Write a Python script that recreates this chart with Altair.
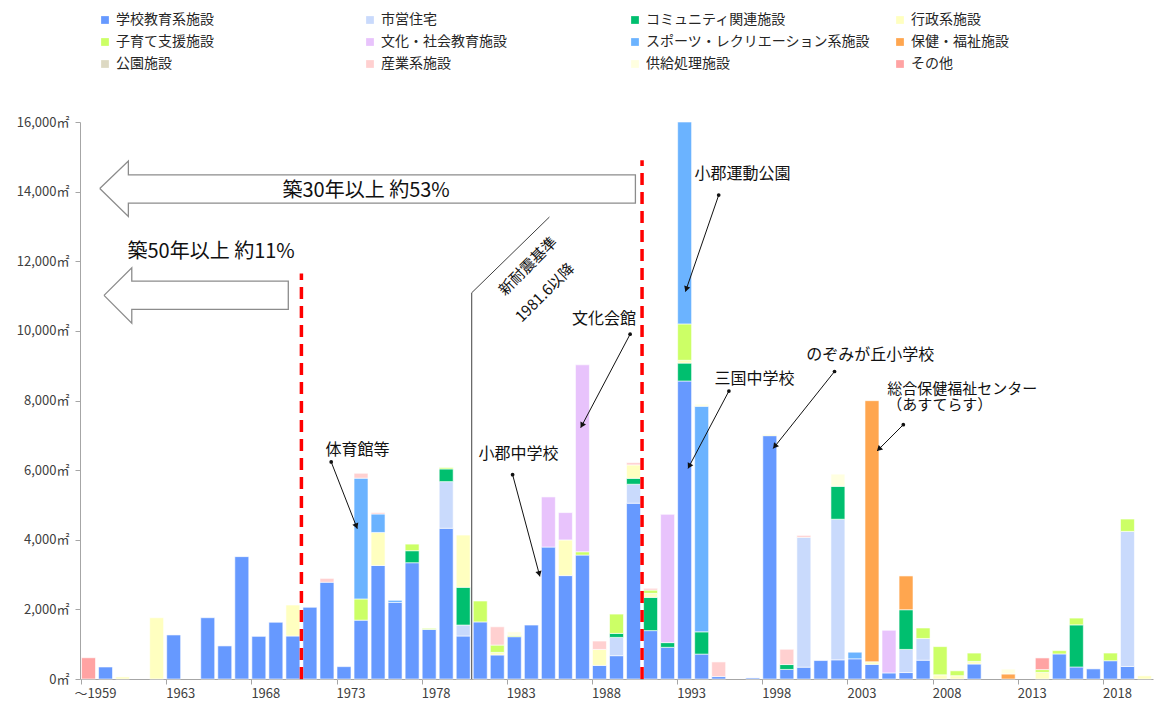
import math
import altair as alt
import pandas as pd

FONT = "Noto Sans CJK JP"

categories = ["～1959"] + [str(y) for y in range(1959, 2021)]
tick_labels = ["～1959", "1963", "1968", "1973", "1978", "1983", "1988",
               "1993", "1998", "2003", "2008", "2013", "2018"]

series_names = ["学校教育系施設", "市営住宅", "コミュニティ関連施設", "行政系施設",
                "子育て支援施設", "文化・社会教育施設", "スポーツ・レクリエーション系施設", "保健・福祉施設",
                "公園施設", "産業系施設", "供給処理施設", "その他"]
series_colors = ["#6699FF", "#C9DAFC", "#00BF6F", "#FFFFC0",
                 "#CCFF66", "#E8C3FC", "#6BB3FF", "#FFA64F",
                 "#DDD9C3", "#FFD0D0", "#FFFFE0", "#FFA3A3"]

school = [0, 345, 0, 0, 0, 1265, 0, 1760, 950, 3515,
          1225, 1630, 1235, 2060, 2780, 355, 1690, 3260, 2200, 3340,
          1425, 4330, 1235, 1640, 690, 1215, 1550, 3790, 2970, 3560,
          390, 670, 5050, 1390, 910, 8560, 715, 70, 0, 30,
          6990, 275, 340, 530, 550, 580, 420, 175, 185, 540,
          0, 0, 430, 0, 0, 0, 0, 720, 345, 290,
          525, 360, 0]
housing = [0, 0, 0, 0, 0, 0, 0, 0, 0, 0,
           0, 0, 0, 0, 0, 0, 0, 0, 0, 0,
           0, 1340, 315, 0, 0, 0, 0, 0, 0, 0,
           0, 525, 545, 0, 0, 0, 0, 0, 0, 0,
           0, 0, 3730, 0, 4040, 0, 0, 0, 665, 625,
           0, 0, 0, 0, 0, 0, 0, 0, 0, 0,
           0, 3880, 0]
community = [0, 0, 0, 0, 0, 0, 0, 0, 0, 0,
             0, 0, 0, 0, 0, 0, 0, 0, 0, 345,
             0, 365, 1085, 0, 0, 0, 0, 0, 0, 0,
             0, 115, 170, 955, 135, 515, 640, 0, 0, 0,
             0, 140, 0, 0, 945, 0, 0, 0, 1140, 0,
             0, 0, 0, 0, 0, 0, 0, 0, 1210, 0,
             0, 0, 0]
admin = [0, 0, 60, 0, 1760, 0, 0, 0, 0, 0,
         0, 0, 890, 0, 0, 0, 0, 950, 0, 0,
         0, 0, 1500, 0, 75, 0, 0, 0, 1025, 0,
         460, 0, 385, 115, 0, 80, 0, 0, 0, 0,
         30, 0, 0, 0, 0, 0, 75, 0, 0, 0,
         120, 95, 75, 0, 0, 0, 190, 0, 0, 0,
         0, 0, 90]
childcare = [0, 0, 0, 0, 0, 0, 0, 0, 0, 0,
             0, 0, 0, 0, 0, 0, 610, 0, 0, 190,
             30, 40, 0, 600, 210, 40, 0, 0, 0, 95,
             0, 555, 0, 95, 0, 1045, 0, 0, 0, 0,
             0, 0, 0, 0, 0, 0, 0, 0, 0, 300,
             810, 140, 240, 0, 0, 0, 80, 95, 195, 0,
             220, 355, 0]
culture = [0, 0, 0, 0, 0, 0, 0, 0, 0, 0,
           0, 0, 0, 0, 0, 0, 0, 0, 0, 0,
           0, 0, 0, 0, 0, 0, 0, 1440, 785, 5370,
           0, 0, 0, 0, 3685, 0, 0, 0, 0, 0,
           0, 0, 0, 0, 0, 0, 0, 1225, 0, 0,
           0, 0, 0, 0, 0, 0, 0, 0, 0, 0,
           0, 0, 0]
sports = [0, 0, 0, 0, 0, 0, 0, 0, 0, 0,
          0, 0, 0, 0, 0, 0, 3470, 530, 60, 0,
          0, 0, 0, 0, 0, 0, 0, 0, 0, 0,
          0, 0, 0, 0, 0, 5800, 6480, 0, 0, 0,
          0, 0, 0, 0, 0, 190, 0, 0, 0, 0,
          0, 0, 0, 0, 0, 0, 0, 0, 0, 0,
          0, 0, 0]
health = [0, 0, 0, 0, 0, 0, 0, 0, 0, 0,
          0, 0, 0, 0, 0, 0, 0, 0, 0, 0,
          0, 0, 0, 0, 0, 0, 0, 0, 0, 0,
          0, 0, 0, 0, 0, 0, 0, 0, 0, 0,
          0, 0, 0, 0, 0, 0, 7500, 0, 970, 0,
          0, 0, 0, 0, 145, 0, 0, 0, 0, 0,
          0, 0, 0]
park = [0, 0, 0, 0, 0, 0, 0, 0, 0, 0,
        0, 0, 0, 0, 0, 0, 0, 0, 0, 0,
        0, 0, 0, 0, 0, 0, 0, 0, 0, 0,
        0, 0, 0, 0, 0, 0, 0, 0, 0, 0,
        0, 0, 0, 0, 0, 0, 0, 0, 0, 0,
        0, 0, 0, 0, 0, 0, 0, 0, 0, 0,
        0, 0, 0]
industry = [0, 0, 0, 0, 0, 0, 0, 0, 0, 0,
            0, 0, 0, 0, 110, 0, 140, 40, 0, 0,
            0, 0, 0, 0, 525, 0, 0, 0, 0, 0,
            240, 0, 65, 50, 0, 0, 0, 420, 0, 0,
            0, 440, 55, 0, 0, 0, 0, 0, 0, 0,
            0, 0, 0, 0, 0, 0, 0, 0, 0, 0,
            0, 0, 0]
supply = [0, 0, 0, 0, 0, 0, 0, 0, 0, 0,
          0, 0, 0, 0, 0, 0, 0, 0, 0, 0,
          0, 0, 0, 0, 0, 100, 0, 0, 0, 0,
          0, 0, 0, 0, 0, 0, 60, 0, 0, 0,
          0, 0, 0, 0, 350, 0, 0, 0, 0, 0,
          0, 0, 0, 0, 140, 0, 0, 0, 0, 0,
          0, 0, 0]
other = [610, 0, 0, 0, 0, 0, 0, 0, 0, 0,
         0, 0, 0, 0, 0, 0, 0, 0, 0, 0,
         0, 0, 0, 0, 0, 0, 0, 0, 0, 0,
         0, 0, 0, 0, 0, 0, 0, 0, 0, 0,
         0, 0, 0, 0, 0, 0, 0, 0, 0, 0,
         0, 0, 0, 0, 0, 0, 335, 0, 0, 0,
         0, 0, 0]

all_series = [school, housing, community, admin, childcare, culture,
              sports, health, park, industry, supply, other]

# annotation data (x in category-index units, y in ㎡)
big_arrow_30_x = [0.66, 2.34, 2.34, 32.11, 32.11, 2.34, 2.34, 0.66]
big_arrow_30_y = [14090, 14880, 14480, 14480, 13670, 13670, 13290, 14090]
big_arrow_50_x = [0.91, 2.54, 2.54, 11.73, 11.73, 2.54, 2.54, 0.91]
big_arrow_50_y = [11020, 11810, 11430, 11430, 10620, 10620, 10220, 11020]
big_text = ["築30年以上 約53%", "築50年以上 約11%"]
big_text_x = [16.3, 7.2]
big_text_y = [14030, 12260]

red_x = [12.5, 32.5]
red_top = [11650, 14900]

quake_x = [22.5, 22.5, 27.06]
quake_y = [0, 11095, 13270]
quake_text = ["新耐震基準", "1981.6以降"]
quake_text_x = [25.8, 26.8]
quake_text_y = [11860, 11095]

label_text = ["体育館等", "小郡中学校", "文化会館", "小郡運動公園", "三国中学校",
              "のぞみが丘小学校"]
label_x = [15.8, 25.25, 30.26, 38.4, 39.1, 45.9]
label_y = [6590, 6470, 10330, 14500, 8610, 9310]
center_text = ["総合保健福祉センター\n（あすてらす）"]
center_x = [46.9]
center_y = [8320]

ptr_x1 = [14.25, 24.9, 31.8, 37.0, 37.6, 43.8, 47.84]
ptr_y1 = [6234, 5869, 9905, 13900, 8272, 8833, 7305]
ptr_x2 = [15.78, 26.5, 28.9, 35.05, 35.2, 40.2, 46.3]
ptr_y2 = [4318, 2948, 7219, 11130, 6050, 6622, 6550]

# ---------------------------------------------------------------
rows = []
for k, (name, vals) in enumerate(zip(series_names, all_series)):
    for i, v in enumerate(vals):
        if v > 0:
            rows.append({"cat": categories[i], "series": name, "ord": k, "value": v})
df = pd.DataFrame(rows)

W, H = 1073, 557
N = len(categories)
YMAX = 16000
px_i = W / N
px_v = H / YMAX

xq = alt.Scale(domain=[-0.5, N - 0.5], nice=False, zero=False)


def yq():
    return alt.Scale(domain=[0, YMAX], nice=False, zero=True)


bars = alt.Chart(df).mark_bar(stroke="white", strokeWidth=0.6).encode(
    x=alt.X("cat:N",
            scale=alt.Scale(domain=categories, paddingInner=0.18, paddingOuter=0.09),
            axis=alt.Axis(values=tick_labels, bandPosition=0, labelOffset=7,
                          labelAngle=0, tickSize=5, labelPadding=3, title=None,
                          domainColor="#A6A6A6", tickColor="#A6A6A6",
                          labelFont=FONT, labelFontSize=13, labelColor="#404040",
                          grid=False)),
    y=alt.Y("value:Q", stack="zero", scale=yq(),
            axis=alt.Axis(values=list(range(0, YMAX + 1, 2000)),
                          labelExpr="format(datum.value, ',') + '㎡'",
                          title=None, grid=False, tickSize=5, labelPadding=6,
                          domainColor="#A6A6A6", tickColor="#A6A6A6",
                          labelFont=FONT, labelFontSize=13, labelColor="#404040")),
    color=alt.Color("series:N",
                    scale=alt.Scale(domain=series_names, range=series_colors),
                    legend=alt.Legend(title=None, orient="none", legendX=18, legendY=-109,
                                      direction="horizontal",
                                      columns=4, gridAlign="all", columnPadding=23,
                                      rowPadding=8, symbolType="square", symbolSize=60,
                                      symbolStrokeWidth=0, labelFont=FONT,
                                      labelFontSize=14, labelColor="#262626",
                                      labelLimit=400, labelOffset=4, padding=0)),
    order=alt.Order("ord:Q", sort="ascending"),
)

red_df = pd.DataFrame({"xi": red_x, "v0": [0, 0], "v1": red_top})
red = alt.Chart(red_df).mark_rule(color="#FF0000", strokeWidth=3.5,
                                  strokeDash=[12, 7]).encode(
    x=alt.X("xi:Q", scale=xq, axis=None),
    y=alt.Y("v0:Q", scale=yq(), axis=None),
    y2="v1:Q",
)

arr_rows = []
for aid, (xs, ys) in enumerate([(big_arrow_30_x, big_arrow_30_y),
                                (big_arrow_50_x, big_arrow_50_y)]):
    for k, (a, b) in enumerate(zip(xs, ys)):
        arr_rows.append({"id": aid, "k": k, "xi": a, "v": b})
arr_df = pd.DataFrame(arr_rows)
arrows = alt.Chart(arr_df).mark_line(color="#8C8C8C", strokeWidth=1.3).encode(
    x=alt.X("xi:Q", scale=xq, axis=None),
    y=alt.Y("v:Q", scale=yq(), axis=None),
    detail="id:N",
    order=alt.Order("k:Q"),
)

big_df = pd.DataFrame({"t": big_text, "xi": big_text_x, "v": big_text_y})
big_txt = alt.Chart(big_df).mark_text(font=FONT, fontSize=20, color="#111111").encode(
    x=alt.X("xi:Q", scale=xq, axis=None),
    y=alt.Y("v:Q", scale=yq(), axis=None),
    text="t:N",
)

qk_df = pd.DataFrame({"xi": quake_x, "v": quake_y, "k": [0, 1, 2]})
quake = alt.Chart(qk_df).mark_line(color="#404040", strokeWidth=1).encode(
    x=alt.X("xi:Q", scale=xq, axis=None),
    y=alt.Y("v:Q", scale=yq(), axis=None),
    order=alt.Order("k:Q"),
)
qt_df = pd.DataFrame({"t": quake_text, "xi": quake_text_x, "v": quake_text_y})
quake_txt = alt.Chart(qt_df).mark_text(font=FONT, fontSize=15, angle=315,
                                       color="#111111").encode(
    x=alt.X("xi:Q", scale=xq, axis=None),
    y=alt.Y("v:Q", scale=yq(), axis=None),
    text="t:N",
)

lb_df = pd.DataFrame({"t": label_text, "xi": label_x, "v": label_y})
labels = alt.Chart(lb_df).mark_text(font=FONT, fontSize=16, color="#111111").encode(
    x=alt.X("xi:Q", scale=xq, axis=None),
    y=alt.Y("v:Q", scale=yq(), axis=None),
    text="t:N",
)
ct_df = pd.DataFrame({"t": center_text, "xi": center_x, "v": center_y})
center_lbl = alt.Chart(ct_df).mark_text(font=FONT, fontSize=15, color="#111111",
                                        align="left", lineBreak="\n",
                                        lineHeight=16).encode(
    x=alt.X("xi:Q", scale=xq, axis=None),
    y=alt.Y("v:Q", scale=yq(), axis=None),
    text="t:N",
)

heads = []
for a, b, c, d in zip(ptr_x1, ptr_y1, ptr_x2, ptr_y2):
    dx = (c - a) * px_i
    dy = (d - b) * px_v
    L = math.hypot(dx, dy)
    ang = math.degrees(math.atan2(dx, dy)) % 360
    heads.append({"xi": c - dx / L * 3.5 / px_i, "v": d - dy / L * 3.5 / px_v, "ang": ang})
ptr_df = pd.DataFrame({"x1": ptr_x1, "y1": ptr_y1, "x2": ptr_x2, "y2": ptr_y2})
head_df = pd.DataFrame(heads)

ptr_lines = alt.Chart(ptr_df).mark_rule(color="#111111", strokeWidth=1).encode(
    x=alt.X("x1:Q", scale=xq, axis=None),
    y=alt.Y("y1:Q", scale=yq(), axis=None),
    x2="x2:Q", y2="y2:Q",
)
ptr_dots = alt.Chart(ptr_df).mark_point(filled=True, shape="circle", size=14,
                                        color="#111111", opacity=1).encode(
    x=alt.X("x1:Q", scale=xq, axis=None),
    y=alt.Y("y1:Q", scale=yq(), axis=None),
)
ptr_heads = alt.Chart(head_df).mark_point(filled=True, shape="triangle", size=40,
                                          color="#111111", opacity=1).encode(
    x=alt.X("xi:Q", scale=xq, axis=None),
    y=alt.Y("v:Q", scale=yq(), axis=None),
    angle=alt.Angle("ang:Q", scale=None),
)

chart = alt.layer(
    bars, red, arrows, big_txt, quake, quake_txt, labels, center_lbl,
    ptr_lines, ptr_dots, ptr_heads
).resolve_scale(
    x="independent", y="independent"
).properties(
    width=W, height=H,
    padding={"left": 72, "top": 114, "right": 7, "bottom": 22},
    autosize=alt.AutoSizeParams(type="none"),
).configure_view(stroke=None)

chart.save("out.html", embed_options={"renderer": "svg", "actions": False})
